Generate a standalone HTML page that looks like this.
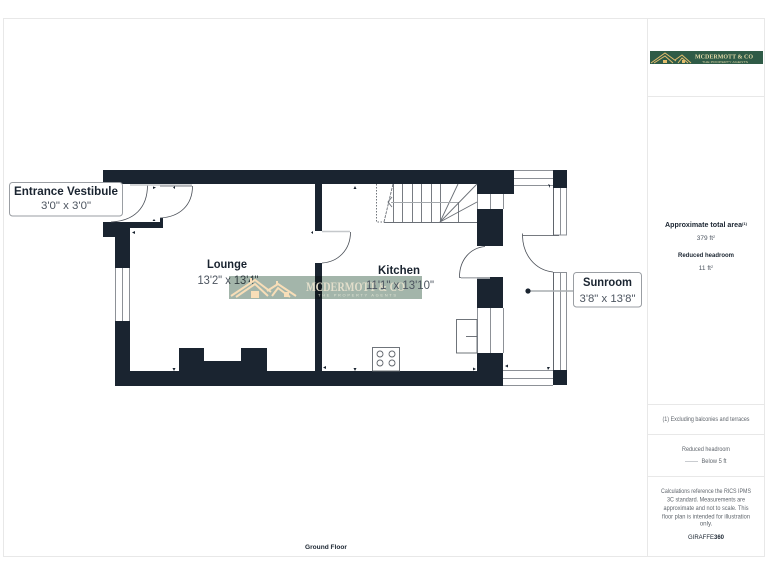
<!DOCTYPE html>
<html>
<head>
<meta charset="utf-8">
<style>
html,body{margin:0;padding:0;background:#fff}
svg{display:block;filter:blur(0.3px)}
text{font-family:"Liberation Sans",sans-serif}
</style>
</head>
<body>
<svg width="768" height="576" viewBox="0 0 768 576" xmlns="http://www.w3.org/2000/svg">
<rect width="768" height="576" fill="#fff"/>
<!-- frame -->
<g fill="none" stroke="#e8e8e8" stroke-width="1">
<rect x="3.5" y="18.5" width="761" height="538"/>
<path d="M647.5 18.5V556.5M647.5 96.5H764.5M647.5 404.5H764.5M647.5 434.5H764.5M647.5 476.5H764.5"/>
</g>
<!-- walls -->
<g fill="#1a2430">
<path d="M103 170H514V194H477V184H322V231H315V184H130V184H103Z"/>
<path d="M103 222H160V218H163V228H130V268H115V237H103Z"/>
<path d="M115 321H130V371H179V348H267V371H315V263H322V371H477V353H503V386H115Z"/>
<rect x="477" y="209" width="26" height="37"/>
<rect x="477" y="277" width="26" height="31"/>
<rect x="553" y="170" width="14" height="18"/>
<rect x="553" y="370" width="14" height="15"/>
</g>
<rect x="204" y="348" width="37" height="13" fill="#fff"/>
<!-- windows -->
<g fill="none" stroke="#8d9197" stroke-width="1">
<path d="M115.5 268V321M122.5 268V321M129.5 268V321"/>
<path d="M514 170.5H553M514 178.5H553M514 185.5H553"/>
<path d="M553.5 188V235M560.5 188V235M566.5 188V235H553"/>
<path d="M553.5 272V370M560.5 272V370M566.5 272V370M553 272.5H567"/>
<path d="M503 370.5H553M503 378.5H553M503 385.5H553"/>
<path d="M477.5 194V209M490.5 194V209M503.5 194V209"/>
<path d="M477.5 308V353M490.5 308V353M503.5 308V353"/>
</g>
<g fill="none" stroke="#555b62" stroke-width="0.8">
<path d="M553.5 188V235M553.5 272V370"/>
</g>
<!-- doors -->
<g fill="none" stroke="#4a4f57" stroke-width="0.8">
<path d="M147.5 185C147.5 208 134 221 111 222"/>
<path d="M192.5 186C192.5 205 180 217 160 218"/>
<path d="M350.500 232C350.500 250 338 262 322 263"/>
<path d="M459.500 277C459.500 260 470 248 485 246.500"/>
<path d="M522.500 236C523 255 535 270 553 272"/>
<path d="M522.500 235.500H559M522.500 233.500V236"/>
<path d="M459 277.500H490"/>
<path d="M160 186H192"/>
</g>
<g fill="none" stroke="#c5c8cb" stroke-width="1.5">
<path d="M322 231.500H350"/>
<path d="M461 278H490"/>
<path d="M130 185H192"/>
</g>
<!-- stairs -->
<g fill="none" stroke="#6a6f76" stroke-width="0.9">
<path d="M393.500 184V222M402.500 184V222M412.500 184V222M421.500 184V222M431.500 184V222M440.500 184V222"/>
<path d="M384 222.500H477"/>
<path d="M458.500 202V222"/>
<path d="M440 222L458 184M440 222L477 184M440 222L477 202"/>
<path d="M384 222L393 184" stroke-dasharray="3 1"/>
<path d="M392 197L388 202L392 207"/>
</g>
<path d="M391 202.500H458" fill="none" stroke="#a4a8ac" stroke-width="1"/>
<path d="M376.500 184V222H384" fill="none" stroke="#70757b" stroke-width="1" stroke-dasharray="1.500 1.500"/>
<!-- appliances -->
<g fill="none" stroke="#60656c" stroke-width="0.9">
<rect x="456.500" y="319.500" width="20.500" height="33.500"/>
<path d="M466 336.500H477"/>
<rect x="372.500" y="347.500" width="27" height="23.500"/>
<circle cx="380" cy="354" r="3"/>
<circle cx="392" cy="354" r="3"/>
<circle cx="380" cy="363" r="3"/>
<circle cx="392" cy="363" r="3"/>
</g>
<!-- ticks -->
<g fill="#1a2430">
<path d="M153 186.500l3 1-3 1.500zM175 186l-2 1.500 2 1.500zM132 232.500l3-1.500v3zM311 232.500l2-1.500v3z"/>
<path d="M174 371l-1.500-3h3zM323 367.500l3-1.500v3zM355 186l1.500 3h-3zM355 371l-1.500-3h3z"/>
<path d="M473 367.500l3 1.500-3 1.500zM505 366l3-1.500v3zM550 367l-2 3-1-3zM550 188l-2-4 2 1zM154 219l1.500 2h-3z"/>
</g>
<!-- room labels under the watermark tint -->
<text x="227" y="268" text-anchor="middle" font-size="11.500" font-weight="700" fill="#1a2430" textLength="40" lengthAdjust="spacingAndGlyphs">Lounge</text>
<text x="228" y="284" text-anchor="middle" font-size="11.500" fill="#4d5560" textLength="61" lengthAdjust="spacingAndGlyphs">13'2" x 13'4"</text>
<text x="399" y="274" text-anchor="middle" font-size="11.500" font-weight="700" fill="#1a2430" textLength="42" lengthAdjust="spacingAndGlyphs">Kitchen</text>
<!-- watermark -->
<rect x="229" y="276" width="193" height="23" fill="#a3b5aa" style="mix-blend-mode:multiply"/>
<g fill="none" stroke="#f8deb8" stroke-width="2">
<path d="M231 296L255 280L271 292"/>
<path d="M236 297L255 284L268 296"/>
<path d="M267 291L278 284L296 296"/>
<path d="M272 296L278 288L290 297"/>
</g>
<g fill="#f8deb8">
<rect x="251" y="291" width="8" height="7"/>
<rect x="284" y="292" width="5" height="5"/>
<rect x="250" y="278" width="2" height="4"/>
<rect x="276" y="281" width="2" height="3"/>
</g>
<text x="306" y="291" style="font-family:'Liberation Serif',serif" font-weight="700" font-size="12.500" fill="#e2decb" textLength="99" lengthAdjust="spacingAndGlyphs">MCDERMOTT &amp; CO</text>
<text x="318" y="296.500" font-size="4" fill="#dfe3d3" textLength="78">THE PROPERTY AGENTS</text>
<text x="400" y="289" text-anchor="middle" font-size="11.500" fill="#4d5560" textLength="68" lengthAdjust="spacingAndGlyphs">11'1" x 13'10"</text>
<!-- callouts -->
<rect x="9.500" y="182.500" width="113" height="33.500" rx="3" fill="#fff" stroke="#9a9ea3" stroke-width="1"/>
<text x="66" y="195" text-anchor="middle" font-size="11.500" font-weight="700" fill="#1a2430" textLength="104" lengthAdjust="spacingAndGlyphs">Entrance Vestibule</text>
<text x="66" y="209" text-anchor="middle" font-size="11" fill="#4d5560" textLength="50" lengthAdjust="spacingAndGlyphs">3'0" x 3'0"</text>
<path d="M528 291H574" stroke="#a9adb1" stroke-width="1.500" fill="none"/>
<circle cx="528" cy="291" r="2.600" fill="#1a2430"/>
<rect x="573.500" y="272.500" width="68" height="34.500" rx="3" fill="#fff" stroke="#9a9ea3" stroke-width="1"/>
<text x="607.500" y="286" text-anchor="middle" font-size="11.500" font-weight="700" fill="#1a2430" textLength="49" lengthAdjust="spacingAndGlyphs">Sunroom</text>
<text x="607.500" y="302" text-anchor="middle" font-size="11" fill="#4d5560" textLength="56" lengthAdjust="spacingAndGlyphs">3'8" x 13'8"</text>
<text x="326" y="549" text-anchor="middle" font-size="6.500" font-weight="700" fill="#1a2430" textLength="42" lengthAdjust="spacingAndGlyphs">Ground Floor</text>
<!-- logo -->
<rect x="650" y="51" width="113" height="13" fill="#2f5b47"/>
<g fill="none" stroke="#e3bd6d" stroke-width="1">
<path d="M651 63L665 53L676 61"/>
<path d="M654 63L665 56L673 63"/>
<path d="M675 60L682 55L691 63"/>
<path d="M678 63L682 58L688 63"/>
</g>
<g fill="#e3bd6d">
<rect x="663" y="60" width="4" height="3"/>
<rect x="682" y="60" width="3" height="3"/>
</g>
<text x="695" y="58.500" style="font-family:'Liberation Serif',serif" font-weight="700" font-size="6" fill="#e3d9a8" textLength="58" lengthAdjust="spacingAndGlyphs">MCDERMOTT &amp; CO</text>
<text x="702" y="62.800" font-size="2.800" fill="#d6d0a0" textLength="46" lengthAdjust="spacingAndGlyphs">THE PROPERTY AGENTS</text>
<!-- side panel text -->
<g text-anchor="middle">
<text x="706" y="227" font-size="7" font-weight="700" fill="#1a2430" textLength="82" lengthAdjust="spacingAndGlyphs">Approximate total area<tspan font-size="4" dy="-2">(1)</tspan></text>
<text x="706" y="240" font-size="6.500" fill="#4d5560">379 ft<tspan font-size="4" dy="-2">2</tspan></text>
<text x="706" y="257" font-size="6.500" font-weight="700" fill="#1a2430" textLength="56" lengthAdjust="spacingAndGlyphs">Reduced headroom</text>
<text x="706" y="270" font-size="6.500" fill="#4d5560">11 ft<tspan font-size="4" dy="-2">2</tspan></text>
<text x="706" y="421" font-size="6.500" fill="#60666d" textLength="87" lengthAdjust="spacingAndGlyphs">(1) Excluding balconies and terraces</text>
<text x="706" y="451" font-size="6.500" fill="#60666d" textLength="48" lengthAdjust="spacingAndGlyphs">Reduced headroom</text>
<text x="714" y="463" font-size="6.500" fill="#60666d" textLength="25" lengthAdjust="spacingAndGlyphs">Below 5 ft</text>
<g font-size="6.200" fill="#60666d">
<text x="706" y="493" textLength="90" lengthAdjust="spacingAndGlyphs">Calculations reference the RICS IPMS</text>
<text x="706" y="501.500" textLength="78" lengthAdjust="spacingAndGlyphs">3C standard. Measurements are</text>
<text x="706" y="510" textLength="85" lengthAdjust="spacingAndGlyphs">approximate and not to scale. This</text>
<text x="706" y="518.500" textLength="88" lengthAdjust="spacingAndGlyphs">floor plan is intended for illustration</text>
<text x="706" y="525.500">only.</text>
</g>
<text x="706" y="539" font-size="6" fill="#1a2430">GIRAFFE<tspan font-weight="700">360</tspan></text>
</g>
<path d="M685 461.500H698" stroke="#c9ccd0" stroke-width="1" fill="none"/>
</svg>
</body>
</html>
